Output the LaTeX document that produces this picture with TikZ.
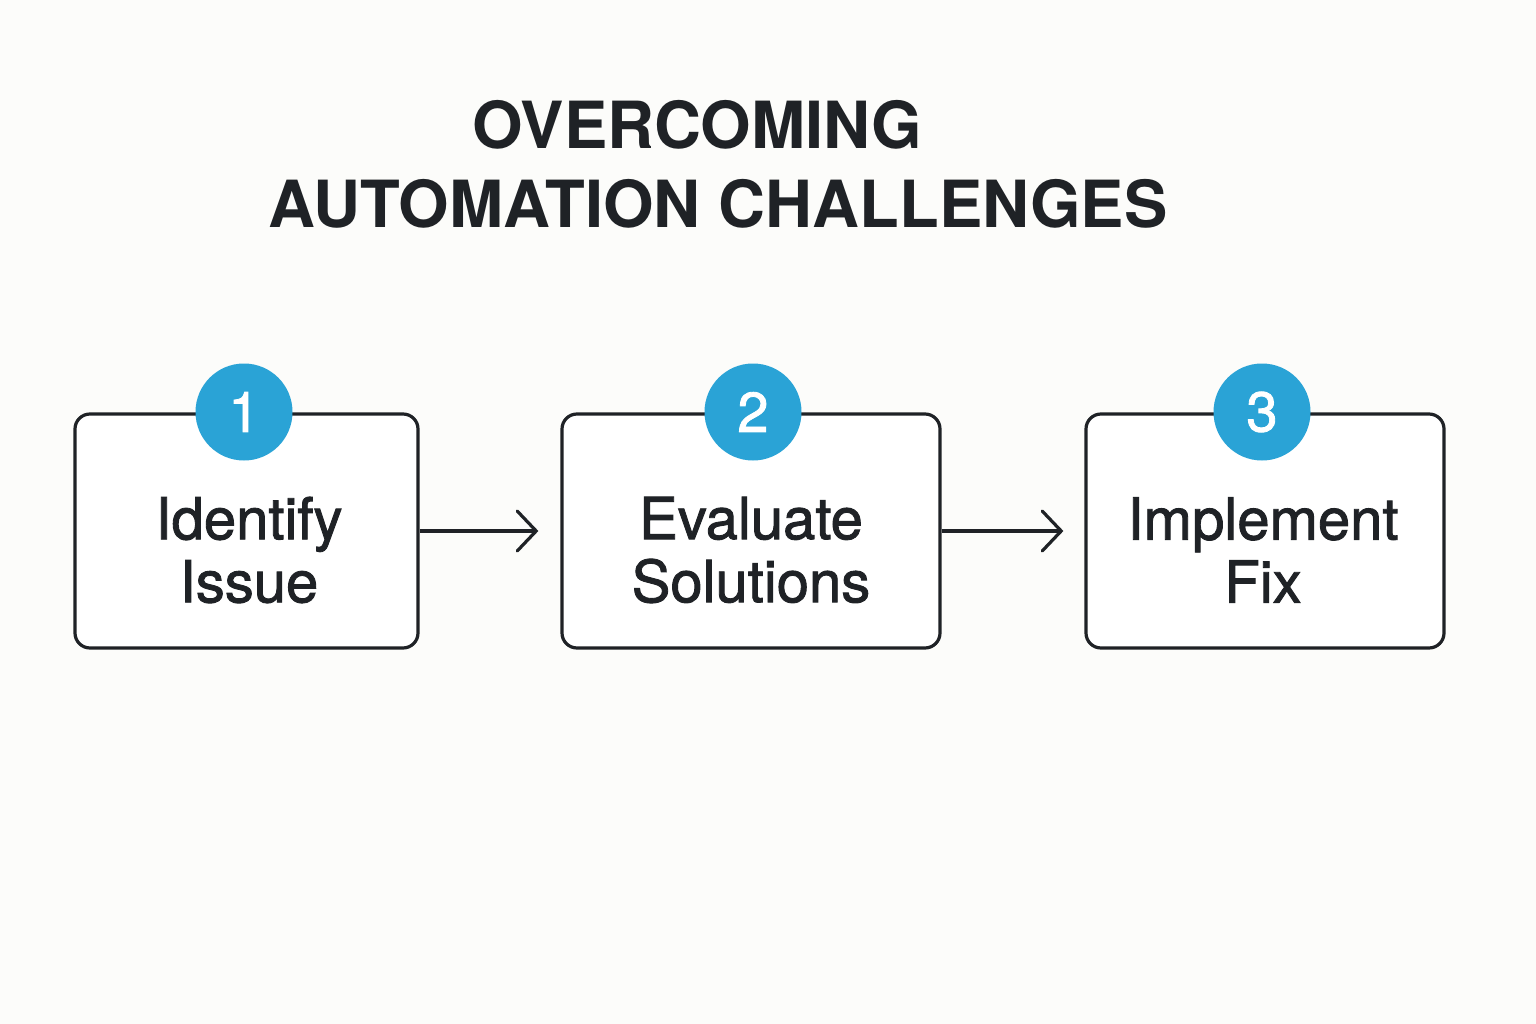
\documentclass[tikz,border=0pt]{standalone}
\usepackage{fontspec}
\setmainfont{TeX Gyre Heros}
\newfontfamily\medfont[FakeBold=1.5]{TeX Gyre Heros}
\usetikzlibrary{arrows.meta}
\definecolor{ink}{HTML}{1F2226}
\definecolor{badge}{HTML}{2AA3D6}
\definecolor{paper}{HTML}{FCFCFA}
\tikzset{
	stepbox/.style={draw=ink, line width=3.2pt, rounded corners=15pt, fill=white, inner sep=0pt},
	steptext/.style={align=center, text=ink, inner sep=0pt, font=\medfont\fontsize{58}{63}\selectfont},
	badgecirc/.style={circle, fill=badge, minimum size=97pt, inner sep=0pt, text=white, font=\medfont\fontsize{56}{56}\selectfont},
	flow/.style={draw=ink, line width=3.2pt, -{Straight Barb[length=19pt, width=40pt, line width=3.2pt, line cap=round]}}
}
\begin{document}
	\begin{tikzpicture}[x=1pt, y=-1pt]
	\fill[paper] (0, 0) rectangle (1536, 1024);
	\useasboundingbox (0, 0) rectangle (1536, 1024);
	% title
	\node[text=ink, font=\fontsize{65}{65}\selectfont\bfseries] (title1) at (697, 125) {OVERCOMING};
	\node[text=ink, font=\fontsize{65}{65}\selectfont\bfseries] (title2) at (718, 204) {AUTOMATION CHALLENGES};
	% steps
	\node[stepbox, minimum width=343pt, minimum height=234pt] (identify) at (246.5, 531) {};
	\node[stepbox, minimum width=378pt, minimum height=234pt] (evaluate) at (751, 531) {};
	\node[stepbox, minimum width=358pt, minimum height=234pt] (implement) at (1265, 531) {};
	\node[steptext] (identifytxt) at (249, 550) {Identify\\Issue};
	\node[steptext] (evaluatetxt) at (751, 550) {Evaluate\\Solutions};
	\node[steptext] (implementtxt) at (1263, 550) {Implement\\Fix};
	\node[badgecirc] (num1) at (244, 412) {1};
	\node[badgecirc] (num2) at (753, 412) {2};
	\node[badgecirc] (num3) at (1262, 412) {3};
	% arrows
	\draw[flow, shorten >=22pt] (identify.east) -- (evaluate.west);
	\draw[flow, shorten >=21pt] (evaluate.east) -- (implement.west);
	\end{tikzpicture}
\end{document}
